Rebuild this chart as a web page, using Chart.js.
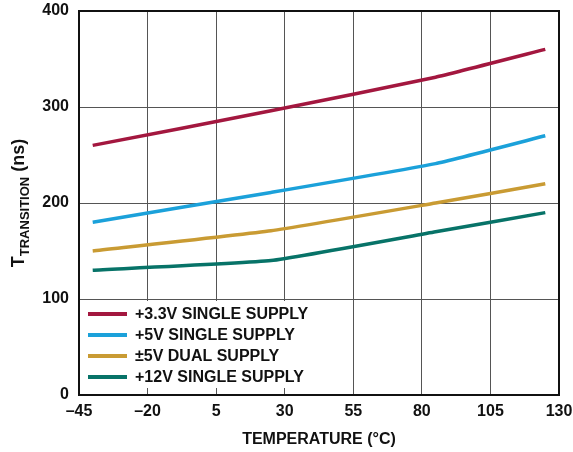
<!DOCTYPE html>
<html>
<head>
<meta charset="utf-8">
<script src="https://cdn.jsdelivr.net/npm/chart.js@4.4.0/dist/chart.umd.min.js"></script>
<style>
html,body{margin:0;padding:0;background:#fff;}
#wrap{width:573px;height:452px;position:relative;}
</style>
</head>
<body>
<div id="wrap"><canvas id="c" width="573" height="452"></canvas></div>
<script>
const temps = [-40, 25, 85, 125];
const s33 = [260, 296, 331, 360];
const s5 = [180, 211, 241, 270];
const sDual = [150, 171, 200, 220];
const s12 = [130, 140, 170, 190];
const seriesNames = ['+3.3V SINGLE SUPPLY', '+5V SINGLE SUPPLY', '\u00B15V DUAL SUPPLY', '+12V SINGLE SUPPLY'];
const seriesColors = ['#A3173F', '#1BA1DA', '#C99B33', '#077368'];
const xTicks = [-45, -20, 5, 30, 55, 80, 105, 130];
const xTickLabels = ['\u201345', '\u201320', '5', '30', '55', '80', '105', '130'];
const yTicks = [0, 100, 200, 300, 400];
const yTickLabels = ['0', '100', '200', '300', '400'];
const xTitle = 'TEMPERATURE (\u00B0C)';
const yTitleMain = 'T';
const yTitleSub = 'TRANSITION';
const yTitleUnit = ' (ns)';

const FONT = '"Liberation Sans", Arial, sans-serif';

function pts(arr){ return temps.map((t,i)=>({x:t,y:arr[i]})); }
const allSeries = [s33, s5, sDual, s12];

const decor = {
  id:'decor',
  afterDraw(chart){
    const {ctx, chartArea:a} = chart;
    ctx.save();
    // border
    ctx.strokeStyle = '#111';
    ctx.lineWidth = 2;
    ctx.strokeRect(a.left, a.top, a.right-a.left, a.bottom-a.top);
    // legend
    ctx.fillStyle = '#fff';
    ctx.fillRect(a.left+1, 301, 235, 87);
    const rows = [314, 335, 356, 377];
    ctx.font = 'bold 16px ' + FONT;
    ctx.textBaseline = 'middle';
    ctx.textAlign = 'left';
    rows.forEach((ry,i)=>{
      ctx.strokeStyle = seriesColors[i];
      ctx.lineWidth = 4;
      ctx.beginPath();
      ctx.moveTo(88, ry);
      ctx.lineTo(127, ry);
      ctx.stroke();
      ctx.fillStyle = '#111';
      ctx.fillText(seriesNames[i], 135, ry+1);
    });
    // x title
    ctx.textAlign = 'center';
    ctx.textBaseline = 'middle';
    ctx.font = 'bold 16px ' + FONT;
    ctx.fillText(xTitle, (a.left+a.right)/2, 440);
    // y title
    ctx.translate(24, (a.top+a.bottom)/2);
    ctx.rotate(-Math.PI/2);
    ctx.textAlign = 'left';
    ctx.textBaseline = 'alphabetic';
    const fBig = 'bold 18px ' + FONT;
    const fSmall = 'bold 13px ' + FONT;
    ctx.font = fBig; const w1 = ctx.measureText(yTitleMain).width;
    const w3 = ctx.measureText(yTitleUnit).width;
    ctx.font = fSmall; const w2 = ctx.measureText(yTitleSub).width;
    let x0 = -(w1+w2+w3)/2;
    ctx.font = fBig; ctx.fillText(yTitleMain, x0, 0);
    ctx.font = fSmall; ctx.fillText(yTitleSub, x0+w1, 5);
    ctx.font = fBig; ctx.fillText(yTitleUnit, x0+w1+w2, 0);
    ctx.restore();
  }
};

new Chart(document.getElementById('c'), {
  type:'line',
  data:{
    datasets: allSeries.map((s,i)=>({
      label: seriesNames[i],
      data: pts(s),
      borderColor: seriesColors[i],
      backgroundColor: seriesColors[i],
      borderWidth: 3.5,
      pointRadius: 0,
      tension: 0.12,
      fill:false
    }))
  },
  options:{
    responsive:false,
    animation:false,
    layout:{padding:{left:0,right:14,top:11,bottom:0}},
    plugins:{legend:{display:false},tooltip:{enabled:false}},
    scales:{
      x:{
        type:'linear', min:-45, max:130,
        afterBuildTicks(sc){ sc.ticks = xTicks.map(v=>({value:v})); },
        afterFit(sc){ sc.height = 57; sc.paddingLeft = 0; sc.paddingRight = 0; },
        ticks:{
          callback:(v)=>{ const i = xTicks.indexOf(v); return i>=0 ? xTickLabels[i] : ''; },
          font:{family:FONT, size:16, weight:'bold'}, color:'#111', padding:7, maxRotation:0, autoSkip:false
        },
        grid:{color:'#555', lineWidth:1, drawTicks:false},
        border:{display:false}
      },
      y:{
        type:'linear', min:0, max:400,
        afterBuildTicks(sc){ sc.ticks = yTicks.map(v=>({value:v})); },
        afterFit(sc){ sc.width = 79; sc.paddingTop = 0; sc.paddingBottom = 0; },
        ticks:{
          callback:(v)=>{ const i = yTicks.indexOf(v); return i>=0 ? yTickLabels[i] : ''; },
          font:{family:FONT, size:16, weight:'bold'}, color:'#111', padding:10
        },
        grid:{color:'#555', lineWidth:1, drawTicks:false},
        border:{display:false}
      }
    }
  },
  plugins:[decor]
});
</script>
</body>
</html>
